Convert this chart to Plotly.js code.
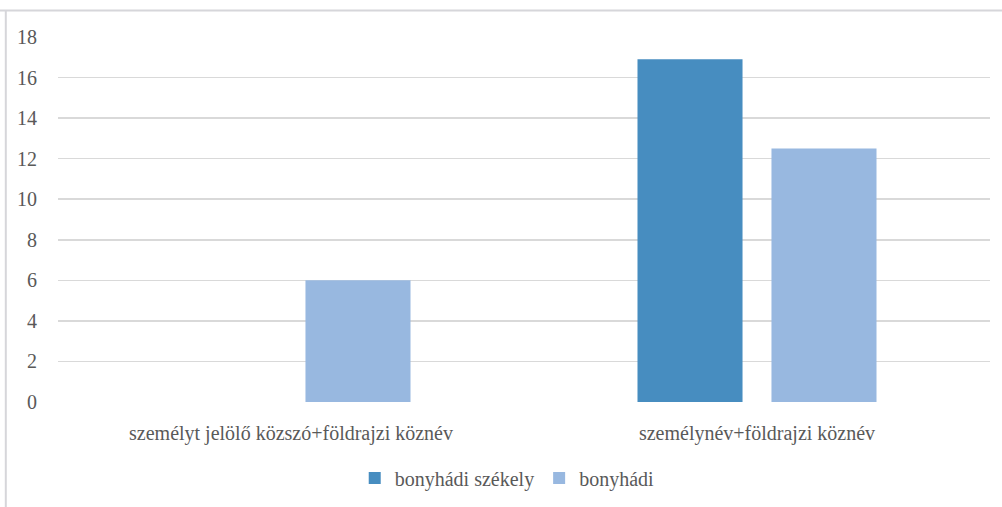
<!DOCTYPE html>
<html>
<head>
<meta charset="utf-8">
<script src="https://cdn.plot.ly/plotly-3.0.1.min.js"></script>
<style>
html,body{margin:0;padding:0;background:#fff;}
#chart{width:1002px;height:507px;}
</style>
</head>
<body>
<div id="chart"></div>
<script>
const categories = ["személyt jelölő közszó+földrajzi köznév", "személynév+földrajzi köznév"];
const seriesNames = ["bonyhádi székely", "bonyhádi"];
const szekelyValues = [0, 16.9];
const bonyhadiValues = [6, 12.5];
const yTicks = [0, 2, 4, 6, 8, 10, 12, 14, 16, 18];

function mkFont() { return {family: 'Liberation Serif', size: 20, color: '#595959'}; }

const traces = [
  {type: 'bar', name: seriesNames[0], x: categories, y: szekelyValues,
   marker: {color: '#478dc0', line: {width: 0}}, hoverinfo: 'none'},
  {type: 'bar', name: seriesNames[1], x: categories, y: bonyhadiValues,
   marker: {color: '#98b8e0', line: {width: 0}}, hoverinfo: 'none'}
];

const layout = {
  width: 1002, height: 507,
  paper_bgcolor: '#fff', plot_bgcolor: '#fff',
  margin: {l: 58, r: 12, t: 37, b: 105, autoexpand: false},
  font: mkFont(),
  barmode: 'group',
  bargap: 0.425,
  bargroupgap: 0.216,
  showlegend: true,
  legend: {orientation: 'h', x: 0.482, xanchor: 'center', yref: 'container', y: 0.057, yanchor: 'middle',
           font: mkFont(), itemwidth: 30, traceorder: 'normal'},
  xaxis: {type: 'category', showgrid: false, zeroline: false, showline: false, automargin: false,
          ticks: 'outside', ticklen: 13, tickcolor: 'rgba(0,0,0,0)', tickfont: mkFont()},
  yaxis: {range: [0, 18], tickvals: yTicks, ticktext: yTicks.map(String), automargin: false,
          showgrid: true, gridcolor: '#d9d9d9', gridwidth: 1.5, zeroline: false, showline: false,
          ticks: 'outside', ticklen: 16, tickcolor: 'rgba(0,0,0,0)', tickfont: mkFont()},
  shapes: [
    {type: 'line', xref: 'paper', yref: 'paper', x0: -0.0735, x1: 1.02, y0: 1.0726, y1: 1.0726,
     line: {color: '#d6d6da', width: 2}},
    {type: 'line', xref: 'paper', yref: 'paper', x0: -0.056, x1: -0.056, y0: 1.0726, y1: -0.3,
     line: {color: '#d6d6da', width: 2}}
  ]
};

Plotly.newPlot('chart', traces, layout, {displayModeBar: false, staticPlot: true});
</script>
</body>
</html>
